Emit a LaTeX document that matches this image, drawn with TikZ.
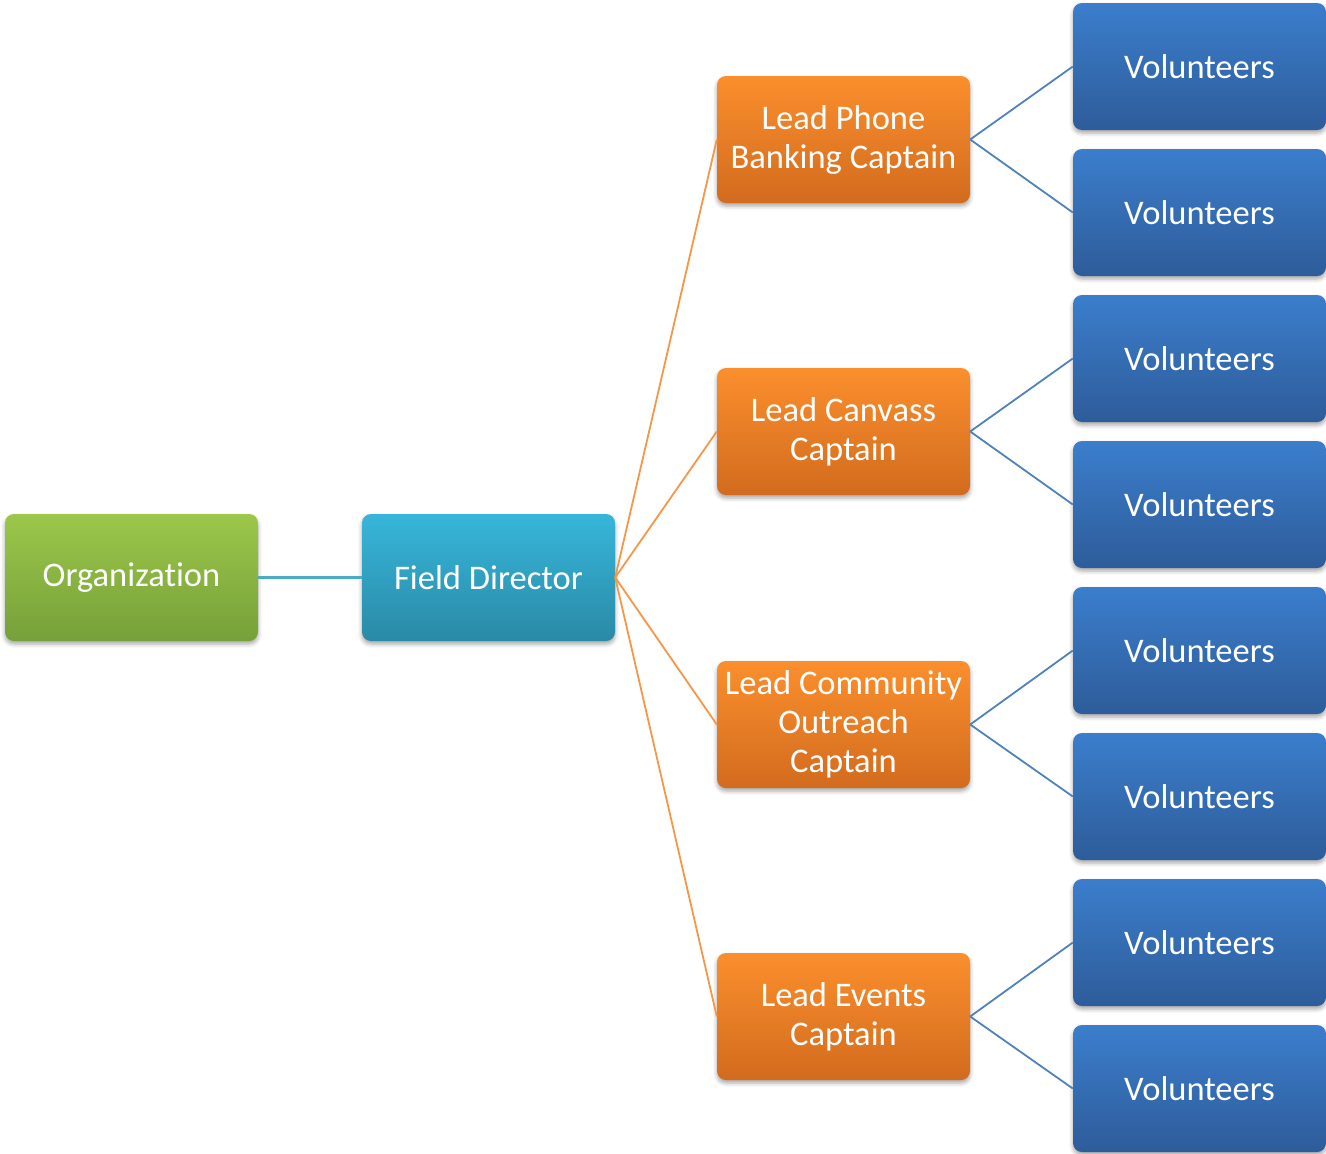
\documentclass[tikz,border=0pt]{standalone}
\usepackage{fontspec}
\setmainfont{Carlito}[Ligatures=NoCommon]
\usetikzlibrary{shadows.blur}
\definecolor{gtop}{HTML}{9CC74A}
\definecolor{gbot}{HTML}{76A03A}
\definecolor{ctop}{HTML}{37B6DA}
\definecolor{cbot}{HTML}{2A8AA6}
\definecolor{otop}{HTML}{FB8F2D}
\definecolor{obot}{HTML}{D26B1E}
\definecolor{btop}{HTML}{3B7ECC}
\definecolor{bbot}{HTML}{2E5C9A}
\definecolor{lcyan}{HTML}{4BACC6}
\definecolor{lorange}{HTML}{F79646}
\definecolor{lblue}{HTML}{4F81BD}
\tikzset{
  box/.style={rounded corners=9pt, minimum width=253pt, minimum height=127pt,
    align=center, inner sep=2pt, text=white,
    font=\fontsize{34.5}{39}\selectfont,
    blur shadow={shadow xshift=0pt, shadow yshift=-3pt, shadow blur radius=4pt, shadow opacity=35}},
  greenbox/.style={box, top color=gtop, bottom color=gbot},
  cyanbox/.style={box, top color=ctop, bottom color=cbot},
  orangebox/.style={box, top color=otop, bottom color=obot},
  bluebox/.style={box, top color=btop, bottom color=bbot},
  cyanline/.style={draw=lcyan, line width=2.6pt},
  orangeline/.style={draw=lorange, line width=1.8pt},
  blueline/.style={draw=lblue, line width=1.8pt}
}
\begin{document}
\begin{tikzpicture}[x=1pt,y=-1pt]
\useasboundingbox (0,0) rectangle (1326,1154);
\node[greenbox] (org) at (131.5,577.5) {Organization};
\node[cyanbox] (fd) at (488.5,577.5) {Field Director};
\node[orangebox] (c1) at (843.5,139.5) {Lead Phone\\Banking Captain};
\node[orangebox] (c2) at (843.5,431.5) {Lead Canvass\\Captain};
\node[orangebox] (c3) at (843.5,724.5) {Lead Community\\Outreach\\Captain};
\node[orangebox] (c4) at (843.5,1016.5) {Lead Events\\Captain};
\node[bluebox] (v1) at (1199.5,66.5) {Volunteers};
\node[bluebox] (v2) at (1199.5,212.5) {Volunteers};
\node[bluebox] (v3) at (1199.5,358.5) {Volunteers};
\node[bluebox] (v4) at (1199.5,504.5) {Volunteers};
\node[bluebox] (v5) at (1199.5,650.5) {Volunteers};
\node[bluebox] (v6) at (1199.5,796.5) {Volunteers};
\node[bluebox] (v7) at (1199.5,942.5) {Volunteers};
\node[bluebox] (v8) at (1199.5,1088.5) {Volunteers};
\draw[cyanline] (org.east) -- (fd.west);
\foreach \c in {c1,c2,c3,c4}{\draw[orangeline] (fd.east) -- (\c.west);}
\draw[blueline] (c1.east) -- (v1.west);
\draw[blueline] (c1.east) -- (v2.west);
\draw[blueline] (c2.east) -- (v3.west);
\draw[blueline] (c2.east) -- (v4.west);
\draw[blueline] (c3.east) -- (v5.west);
\draw[blueline] (c3.east) -- (v6.west);
\draw[blueline] (c4.east) -- (v7.west);
\draw[blueline] (c4.east) -- (v8.west);
\end{tikzpicture}
\end{document}
